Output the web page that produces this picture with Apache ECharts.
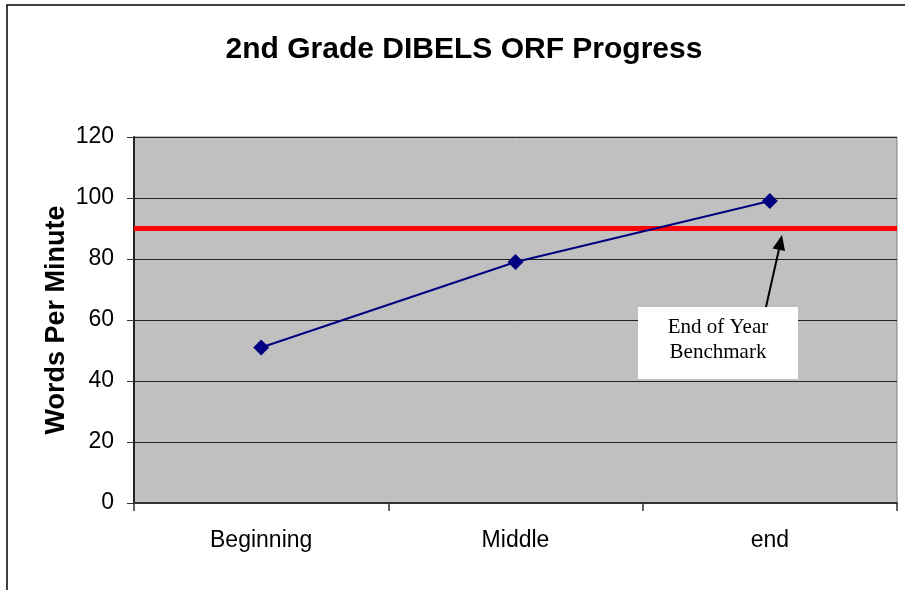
<!DOCTYPE html>
<html>
<head>
<meta charset="utf-8">
<script src="https://cdn.jsdelivr.net/npm/echarts@6/dist/echarts.min.js"></script>
<style>
html,body{margin:0;padding:0;background:#fff;}
#chart{width:905px;height:590px;}
</style>
</head>
<body>
<div id="chart"></div>
<script>
var categories = ['Beginning', 'Middle', 'end'];
var wordsPerMinute = [51, 79, 99];
var benchmark = 90;
var yTicks = [0, 20, 40, 60, 80, 100, 120];

var chart = echarts.init(document.getElementById('chart'));

var option = {
  backgroundColor: '#ffffff',
  animation: false,
  title: {
    text: '2nd Grade DIBELS ORF Progress',
    left: 459,
    top: 30,
    textAlign: 'center',
    textStyle: { fontFamily: 'Liberation Sans', fontSize: 30, fontWeight: 'bold', color: '#000' }
  },
  grid: {
    left: 134, top: 137, right: 8, bottom: 87,
    show: true,
    backgroundColor: '#C0C0C0',
    borderColor: '#808080',
    borderWidth: 1
  },
  xAxis: {
    type: 'category',
    data: categories,
    boundaryGap: true,
    axisLine: { lineStyle: { color: '#333333', width: 2 } },
    axisTick: { show: true, length: 8, interval: 0, lineStyle: { color: '#333333', width: 1.5 } },
    axisLabel: { margin: 26, fontFamily: 'Liberation Sans', fontSize: 23, color: '#000' },
    splitLine: { show: false }
  },
  yAxis: {
    type: 'value',
    min: yTicks[0],
    max: yTicks[yTicks.length - 1],
    interval: 20,
    name: 'Words Per Minute',
    nameLocation: 'middle',
    nameGap: 64,
    nameMoveOverlap: false,
    nameTextStyle: { fontFamily: 'Liberation Sans', fontSize: 27, fontWeight: 'bold', color: '#000' },
    axisLine: { show: true, lineStyle: { color: '#222222', width: 2 } },
    axisTick: { show: true, length: 7, lineStyle: { color: '#333333', width: 1 } },
    axisLabel: { margin: 20, fontFamily: 'Liberation Sans', fontSize: 23, color: '#000' },
    splitLine: { show: true, lineStyle: { color: '#222222', width: 1 } }
  },
  series: [{
    type: 'line',
    data: wordsPerMinute,
    symbol: 'diamond',
    symbolSize: 16,
    lineStyle: { color: '#000080', width: 2 },
    itemStyle: { color: '#000080' },
    z: 5,
    markLine: {
      silent: true,
      symbol: ['none', 'none'],
      label: { show: false },
      lineStyle: { color: '#FF0000', width: 5, type: 'solid' },
      data: [{ yAxis: benchmark }],
      z: 3
    }
  }],
  graphic: [
    { type: 'rect', shape: { x: 7, y: 5, width: 1200, height: 1200 }, style: { fill: 'none', stroke: '#000', lineWidth: 1.5 }, silent: true, z: 0 },
    { type: 'rect', shape: { x: 638, y: 307, width: 160, height: 72 }, style: { fill: '#ffffff' }, z: 10 },
    { type: 'text', x: 718, y: 317, style: { text: 'End of Year', textAlign: 'center', align: 'center', fontFamily: 'Liberation Serif', fontSize: 21, fill: '#000' }, z: 11 },
    { type: 'text', x: 718, y: 342, style: { text: 'Benchmark', textAlign: 'center', align: 'center', fontFamily: 'Liberation Serif', fontSize: 21, fill: '#000' }, z: 11 },
    { type: 'line', shape: { x1: 766, y1: 307, x2: 779.5, y2: 247 }, style: { stroke: '#000', lineWidth: 2 }, z: 11 },
    { type: 'polygon', shape: { points: [[782, 235], [785, 251], [772.5, 248.5]] }, style: { fill: '#000' }, z: 11 }
  ]
};

chart.setOption(option);
</script>
</body>
</html>
